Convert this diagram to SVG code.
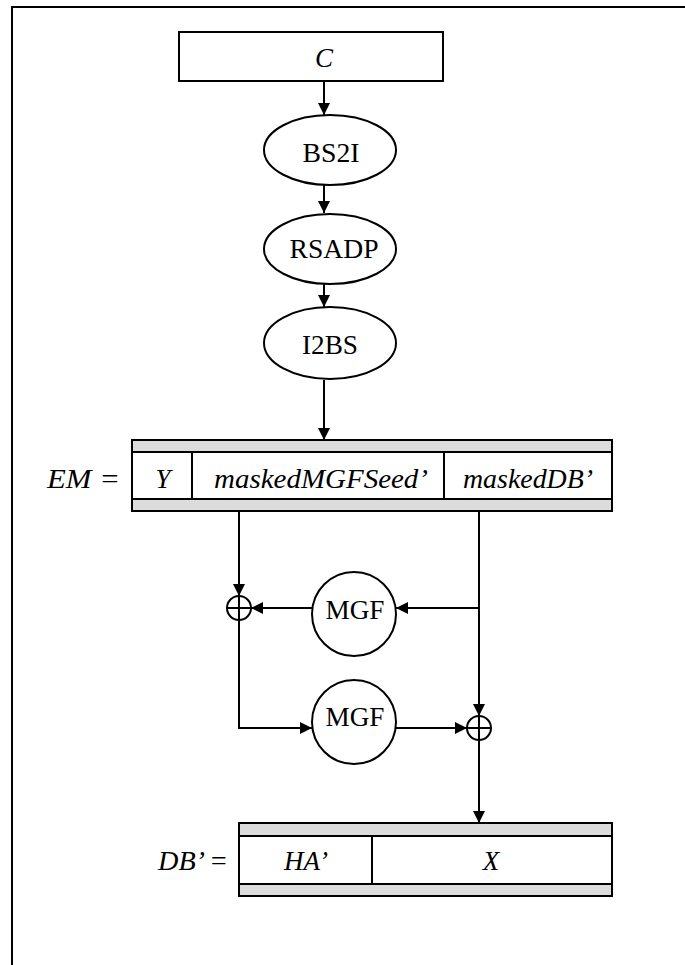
<svg xmlns="http://www.w3.org/2000/svg" width="685" height="965" viewBox="0 0 685 965">
<style>
  .ln{stroke:#000;stroke-width:2;fill:none}
  .box{fill:#fff;stroke:#000;stroke-width:2}
  .band{fill:#dcdcdc;stroke:#000;stroke-width:2}
  .t{font-family:"Liberation Serif","Times New Roman",serif;font-size:27px;fill:#000;text-anchor:middle}
  .it{font-style:italic}
  .lbl{font-family:"Liberation Serif","Times New Roman",serif;font-size:27px;fill:#000;font-style:italic;text-anchor:end}
</style>
<defs>
  <marker id="ah" viewBox="0 0 12 12" refX="12" refY="6" markerWidth="12" markerHeight="12" markerUnits="userSpaceOnUse" orient="auto">
    <path d="M0,0 L12,6 L0,12 z" fill="#000"/>
  </marker>
</defs>
<rect width="685" height="965" fill="#fff"/>
<g id="frame">
  <path class="ln" d="M12,965 V7 H685"/>
</g>
<g id="nodeC">
  <rect class="box" x="179" y="32" width="264" height="49"/>
  <text class="t it" x="324" y="67">C</text>
</g>
<g id="nodeBS2I">
  <ellipse class="box" cx="330" cy="150" rx="66" ry="35"/>
  <text class="t" x="331" y="162" textLength="57" lengthAdjust="spacingAndGlyphs">BS2I</text>
</g>
<g id="nodeRSADP">
  <ellipse class="box" cx="330" cy="249" rx="66" ry="35"/>
  <text class="t" x="334" y="258" textLength="89" lengthAdjust="spacingAndGlyphs">RSADP</text>
</g>
<g id="nodeI2BS">
  <ellipse class="box" cx="330" cy="343" rx="66" ry="36"/>
  <text class="t" x="330" y="354" textLength="56" lengthAdjust="spacingAndGlyphs">I2BS</text>
</g>
<g id="nodeEM">
  <text class="lbl" x="120" y="488" textLength="73" lengthAdjust="spacingAndGlyphs">EM =</text>
  <rect class="band" x="132" y="440" width="480" height="12"/>
  <rect class="box" x="132" y="452" width="480" height="47"/>
  <rect class="band" x="132" y="499" width="480" height="12"/>
  <line class="ln" x1="192" y1="452" x2="192" y2="499"/>
  <line class="ln" x1="444" y1="452" x2="444" y2="499"/>
  <text class="t it" x="163" y="488">Y</text>
  <text class="t it" x="321" y="488" textLength="214" lengthAdjust="spacingAndGlyphs">maskedMGFSeed’</text>
  <text class="t it" x="528" y="488" textLength="130" lengthAdjust="spacingAndGlyphs">maskedDB’</text>
</g>
<g id="xor1">
  <circle class="ln" cx="239" cy="608" r="12"/>
  <path class="ln" d="M227,608 H251 M239,596 V620"/>
</g>
<g id="nodeMGF1">
  <circle class="box" cx="354" cy="614" r="42"/>
  <text class="t" x="355" y="619" textLength="59" lengthAdjust="spacingAndGlyphs">MGF</text>
</g>
<g id="nodeMGF2">
  <circle class="box" cx="354" cy="722" r="42"/>
  <text class="t" x="355" y="726" textLength="59" lengthAdjust="spacingAndGlyphs">MGF</text>
</g>
<g id="xor2">
  <circle class="ln" cx="479" cy="728" r="12"/>
  <path class="ln" d="M467,728 H491 M479,716 V740"/>
</g>
<g id="nodeDB">
  <text class="lbl" x="228" y="870" textLength="70" lengthAdjust="spacingAndGlyphs">DB’ =</text>
  <rect class="band" x="239" y="823" width="373" height="13"/>
  <rect class="box" x="239" y="836" width="373" height="48"/>
  <rect class="band" x="239" y="884" width="373" height="12"/>
  <line class="ln" x1="372" y1="836" x2="372" y2="884"/>
  <text class="t it" x="306" y="870">HA’</text>
  <text class="t it" x="491" y="870">X</text>
</g>
<g id="connectors">
  <path class="ln" marker-end="url(#ah)" d="M324,81 V115"/>
  <path class="ln" marker-end="url(#ah)" d="M324,185 V213"/>
  <path class="ln" marker-end="url(#ah)" d="M324,284 V307"/>
  <path class="ln" marker-end="url(#ah)" d="M324,380 V440"/>
  <path class="ln" marker-end="url(#ah)" d="M239,511 V596"/>
  <path class="ln" marker-end="url(#ah)" d="M479,511 V716"/>
  <path class="ln" marker-end="url(#ah)" d="M479,608 H396"/>
  <path class="ln" marker-end="url(#ah)" d="M312,608 H251"/>
  <path class="ln" marker-end="url(#ah)" d="M239,620 V728 H312"/>
  <path class="ln" marker-end="url(#ah)" d="M396,728 H467"/>
  <path class="ln" marker-end="url(#ah)" d="M479,740 V823"/>
</g>
</svg>
